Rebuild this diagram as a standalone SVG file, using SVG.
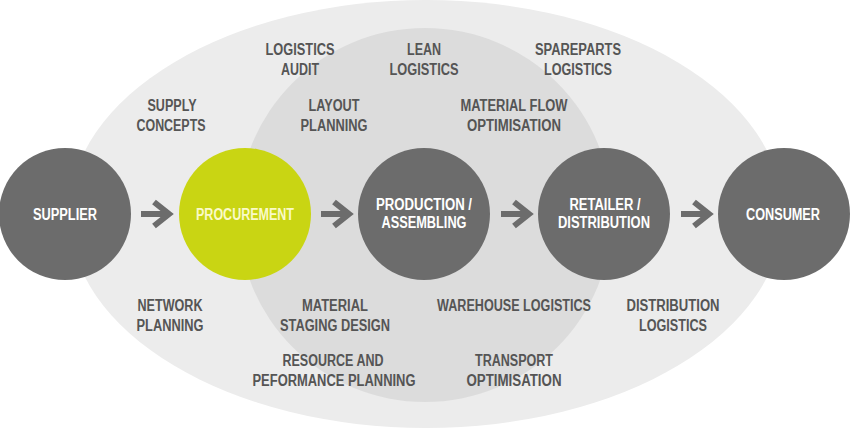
<svg xmlns="http://www.w3.org/2000/svg" width="850" height="429" viewBox="0 0 850 429">
  <defs>
    <style>
      .lbl { font-family: "Liberation Sans", Arial, sans-serif; font-weight: bold; font-size: 16px; fill: #555555; text-anchor: middle; }
      .nt { font-family: "Liberation Sans", Arial, sans-serif; font-weight: bold; font-size: 16px; fill: #ffffff; text-anchor: middle; }
      .node { fill: #6c6c6c; }
      .green { fill: #c9d513; }
      .nt-g { fill: #fafac8; }
      .arrow { fill: none; stroke: #6c6c6c; stroke-width: 6; stroke-linejoin: miter; }
    </style>
  </defs>
  <rect width="850" height="429" fill="#ffffff"/>
  <g id="background">
    <ellipse cx="426" cy="214" rx="357" ry="214" fill="#ececec"/>
    <circle cx="425" cy="215" r="187" fill="#dcdcdc"/>
  </g>

  <g id="labels">
    <text class="lbl" x="300" y="55" textLength="69" lengthAdjust="spacingAndGlyphs">LOGISTICS</text>
    <text class="lbl" x="300" y="75" textLength="38" lengthAdjust="spacingAndGlyphs">AUDIT</text>
    <text class="lbl" x="424" y="55" textLength="34" lengthAdjust="spacingAndGlyphs">LEAN</text>
    <text class="lbl" x="424" y="75" textLength="69" lengthAdjust="spacingAndGlyphs">LOGISTICS</text>
    <text class="lbl" x="578" y="55" textLength="86" lengthAdjust="spacingAndGlyphs">SPAREPARTS</text>
    <text class="lbl" x="578" y="75" textLength="68" lengthAdjust="spacingAndGlyphs">LOGISTICS</text>
    <text class="lbl" x="172" y="111" textLength="49" lengthAdjust="spacingAndGlyphs">SUPPLY</text>
    <text class="lbl" x="171" y="131" textLength="69" lengthAdjust="spacingAndGlyphs">CONCEPTS</text>
    <text class="lbl" x="334" y="111" textLength="51" lengthAdjust="spacingAndGlyphs">LAYOUT</text>
    <text class="lbl" x="334" y="131" textLength="67" lengthAdjust="spacingAndGlyphs">PLANNING</text>
    <text class="lbl" x="514" y="111" textLength="107" lengthAdjust="spacingAndGlyphs">MATERIAL FLOW</text>
    <text class="lbl" x="514" y="131" textLength="94" lengthAdjust="spacingAndGlyphs">OPTIMISATION</text>
    <text class="lbl" x="170" y="311" textLength="65" lengthAdjust="spacingAndGlyphs">NETWORK</text>
    <text class="lbl" x="170" y="331" textLength="67" lengthAdjust="spacingAndGlyphs">PLANNING</text>
    <text class="lbl" x="335" y="311" textLength="66" lengthAdjust="spacingAndGlyphs">MATERIAL</text>
    <text class="lbl" x="335" y="331" textLength="110" lengthAdjust="spacingAndGlyphs">STAGING DESIGN</text>
    <text class="lbl" x="333" y="366" textLength="101" lengthAdjust="spacingAndGlyphs">RESOURCE AND</text>
    <text class="lbl" x="334" y="386" textLength="163" lengthAdjust="spacingAndGlyphs">PEFORMANCE PLANNING</text>
    <text class="lbl" x="514" y="311" textLength="154" lengthAdjust="spacingAndGlyphs">WAREHOUSE LOGISTICS</text>
    <text class="lbl" x="673" y="311" textLength="93" lengthAdjust="spacingAndGlyphs">DISTRIBUTION</text>
    <text class="lbl" x="673" y="331" textLength="68" lengthAdjust="spacingAndGlyphs">LOGISTICS</text>
    <text class="lbl" x="514" y="366" textLength="78" lengthAdjust="spacingAndGlyphs">TRANSPORT</text>
    <text class="lbl" x="514" y="386" textLength="95" lengthAdjust="spacingAndGlyphs">OPTIMISATION</text>
  </g>

  <g id="connectors">
    <path class="arrow" d="M141 214 H166 M154 202 L169 214 L154 226"/>
    <path class="arrow" d="M321 214 H346 M334 202 L349 214 L334 226"/>
    <path class="arrow" d="M501 214 H526 M514 202 L529 214 L514 226"/>
    <path class="arrow" d="M681 214 H706 M694 202 L709 214 L694 226"/>
  </g>

  <g id="supplier">
    <circle class="node" cx="65" cy="214" r="66"/>
    <text class="nt" x="65" y="220" textLength="64" lengthAdjust="spacingAndGlyphs">SUPPLIER</text>
  </g>
  <g id="procurement">
    <circle class="green" cx="245" cy="214" r="66"/>
    <text class="nt nt-g" x="245" y="220" textLength="98" lengthAdjust="spacingAndGlyphs">PROCUREMENT</text>
  </g>
  <g id="production">
    <circle class="node" cx="424" cy="214" r="66"/>
    <text class="nt" x="424" y="210" textLength="96" lengthAdjust="spacingAndGlyphs">PRODUCTION /</text>
    <text class="nt" x="424" y="228" textLength="85" lengthAdjust="spacingAndGlyphs">ASSEMBLING</text>
  </g>
  <g id="retailer">
    <circle class="node" cx="604" cy="214" r="66"/>
    <text class="nt" x="605" y="210" textLength="71" lengthAdjust="spacingAndGlyphs">RETAILER /</text>
    <text class="nt" x="604" y="228" textLength="92" lengthAdjust="spacingAndGlyphs">DISTRIBUTION</text>
  </g>
  <g id="consumer">
    <circle class="node" cx="784" cy="214" r="66"/>
    <text class="nt" x="783" y="220" textLength="74" lengthAdjust="spacingAndGlyphs">CONSUMER</text>
  </g>
</svg>
